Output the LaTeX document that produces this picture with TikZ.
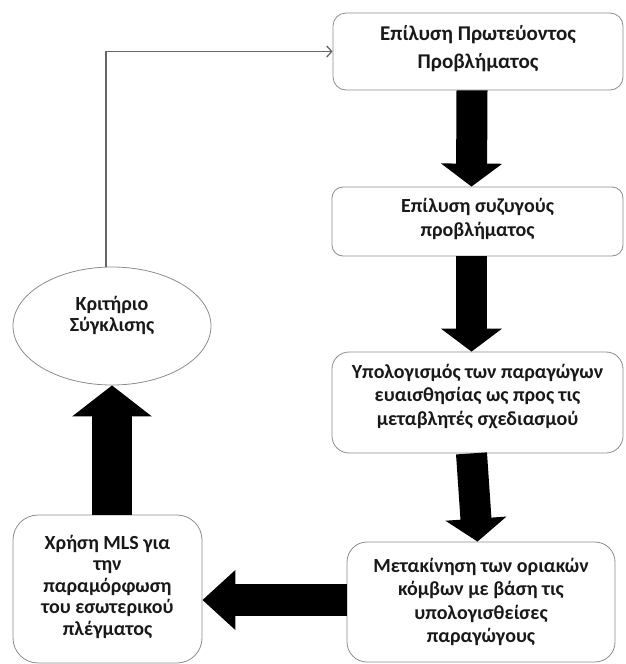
\documentclass[tikz,border=0pt]{standalone}
\usepackage{fontspec}
\setmainfont{Carlito}
\usetikzlibrary{arrows.meta,shapes.geometric}
\begin{document}
\begin{tikzpicture}[x=1pt, y=-1pt,
  stage/.style={draw=black!45, line width=0.8pt, rectangle, inner sep=0pt, align=center, font=\fontsize{20}{23.5}\selectfont\bfseries, text=black!90},
  crit/.style={draw=black!45, line width=0.8pt, ellipse, inner sep=0pt, align=center, font=\fontsize{20}{21}\selectfont\bfseries, text=black!90},
  fatarrow/.style={line width=31pt, -{Triangle[width=60pt,length=23pt]}},
  thinarrow/.style={draw=black!60, line width=1.3pt, -{Straight Barb[length=5pt,width=11pt]}}]
\useasboundingbox (0,0) rectangle (625,664);
\node[stage, minimum width=290pt, minimum height=77pt, rounded corners=13pt, font=\fontsize{21}{28}\selectfont\bfseries] (prim) at (478,51.5){Επίλυση Πρωτεύοντος\\Προβλήματος\\[-20pt]};
\node[stage, minimum width=291pt, minimum height=69pt, rounded corners=11pt] (adj) at (477.5,221.5){Επίλυση συζυγούς\\προβλήματος\\[-15.5pt]};
\node[stage, minimum width=291pt, minimum height=101pt, rounded corners=17pt] (sens) at (477.5,402.5){Υπολογισμός των παραγώγων\\ευαισθησίας ως προς τις\\μεταβλητές σχεδιασμού\\[-8pt]};
\node[stage, minimum width=268pt, minimum height=120pt, rounded corners=20pt] (move) at (481,602){Μετακίνηση των οριακών\\κόμβων με βάση τις\\υπολογισθείσες\\παραγώγους};
\node[stage, minimum width=189pt, minimum height=148pt, rounded corners=25pt, font=\fontsize{20}{21.5}\selectfont\bfseries] (mls) at (107.5,589){Χρήση MLS για\\την\\παραμόρφωση\\του εσωτερικού\\πλέγματος\\[-13.5pt]};
\node[crit, minimum width=198pt, minimum height=118pt] (conv) at (112,326){Κριτήριο\\Σύγκλισης\\[3pt]};
\draw[fatarrow] ([xshift=-6pt]prim.south) -- ([xshift=-6pt]adj.north);
\draw[fatarrow] ([xshift=-6pt]adj.south) -- ([xshift=-6pt]sens.north);
\draw[fatarrow] ([xshift=-6pt]sens.south) -- (sens.south |- move.north);
\draw[fatarrow, line width=32pt, -{Triangle[width=58pt,length=33pt]}] ([yshift=2pt]move.west) -- ([yshift=2pt]move.west -| mls.east);
\draw[fatarrow, line width=40pt, -{Triangle[width=78pt,length=31pt]}] (mls.north -| conv.south) -- (conv.south);
\draw[thinarrow] ([xshift=-6pt]conv.north) |- (prim.west);
\end{tikzpicture}
\end{document}
